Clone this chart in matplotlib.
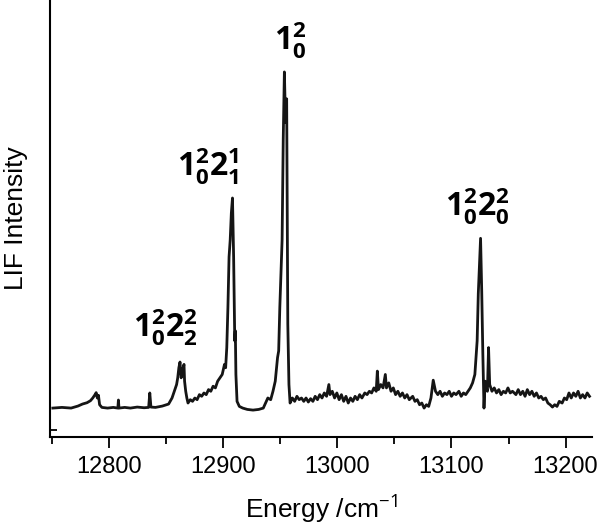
import matplotlib
matplotlib.use("Agg")
import matplotlib.pyplot as plt
from matplotlib.ticker import MultipleLocator

plt.rcParams['font.family'] = ['Liberation Sans', 'DejaVu Sans']
plt.rcParams['mathtext.fontset'] = 'custom'
plt.rcParams['mathtext.bf'] = 'Open Sans:bold'
plt.rcParams['mathtext.rm'] = 'Open Sans'

# spectrum: energy (cm-1) and LIF intensity (main peak = 1)
energy = [12750.5, 12758.5, 12766.5, 12772.5, 12776.5, 12780.5, 12783.5, 12785.5, 12787.5, 12788.5,
          12789.5, 12790.5, 12791.5, 12793.5, 12798.5, 12803.5, 12807.5, 12808, 12808.5, 12813.5,
          12818.5, 12824.5, 12830.5, 12834.5, 12835.5, 12836.5, 12840.5, 12846.5, 12852, 12855,
          12857, 12859, 12860, 12861, 12862, 12863, 12864, 12865.5, 12866, 12867,
          12868, 12869, 12871, 12873, 12875, 12877, 12879, 12881, 12883, 12885,
          12887, 12889, 12891, 12893, 12895, 12897, 12899, 12901, 12902, 12903,
          12904, 12905, 12906, 12907, 12908, 12909, 12910, 12910.5, 12911, 12912,
          12914, 12917, 12921, 12926, 12931, 12935, 12937, 12939, 12941.5, 12943.5,
          12945.5, 12947.5, 12948.5, 12949.5, 12951.5, 12952.5, 12953.5, 12954.5, 12955.5, 12956,
          12956.5, 12957.5, 12958.5, 12960.5, 12962.5, 12964.5, 12966.5, 12968.5, 12970.5, 12972.5,
          12974.5, 12976.5, 12978.5, 12980.5, 12982.5, 12984.5, 12986.5, 12988.5, 12990.5, 12992.5,
          12993.5, 12995.5, 12997.5, 12999.5, 13001.5, 13003.5, 13005.5, 13007.5, 13009.5, 13011.5,
          13013.5, 13015.5, 13017.5, 13019.5, 13021.5, 13024, 13026, 13028, 13030, 13032,
          13034, 13035, 13036, 13038, 13040, 13042, 13043, 13045, 13047, 13049,
          13051, 13053, 13055, 13057, 13059, 13061, 13063, 13066, 13068, 13070,
          13072, 13074, 13076, 13078, 13080, 13082, 13084, 13086, 13088, 13090,
          13092, 13094, 13096, 13098, 13100, 13102, 13104, 13106.5, 13108.5, 13110.5,
          13112.5, 13114.5, 13116.5, 13118.5, 13120.5, 13122.5, 13123.5, 13124.5, 13125.5, 13126.5,
          13127.5, 13128.5, 13129.5, 13130.5, 13131.5, 13132.5, 13133.5, 13135.5, 13137.5, 13139.5,
          13141.5, 13143.5, 13145.5, 13147.5, 13149.5, 13151.5, 13153.5, 13156.5, 13158.5, 13160.5,
          13162.5, 13164.5, 13166.5, 13168.5, 13170.5, 13172.5, 13174.5, 13176.5, 13178.5, 13180.5,
          13182.5, 13184.5, 13186.5, 13188.5, 13190.5, 13192.5, 13194.5, 13197, 13199, 13201,
          13203, 13205, 13207, 13209, 13211, 13213, 13215, 13217, 13219, 13221]
intensity = [0.0, 0.002, 0.0, 0.006, 0.012, 0.016, 0.022, 0.03, 0.04, 0.046,
             0.03, 0.038, 0.01, 0.002, 0.0, 0.002, 0.0, 0.024, 0.0, 0.002,
             0.0, 0.003, 0.001, 0.002, 0.045, 0.003, 0.002, 0.006, 0.012, 0.03,
             0.05, 0.07, 0.09, 0.12, 0.137, 0.09, 0.11, 0.13, 0.08, 0.05,
             0.03, 0.015, 0.025, 0.02, 0.03, 0.025, 0.04, 0.035, 0.045, 0.04,
             0.055, 0.05, 0.065, 0.06, 0.08, 0.09, 0.1, 0.13, 0.12, 0.18,
             0.3, 0.45, 0.5, 0.58, 0.625, 0.45, 0.2, 0.23, 0.1, 0.02,
             0.005, 0.0, -0.004, -0.006, -0.004, 0.0, 0.015, 0.03, 0.025, 0.05,
             0.08, 0.15, 0.17, 0.3, 0.5, 0.8, 1.0, 0.85, 0.92, 0.6,
             0.25, 0.07, 0.015, 0.03, 0.02, 0.035, 0.025, 0.03, 0.02, 0.03,
             0.018, 0.028, 0.02, 0.035, 0.025, 0.04, 0.03, 0.045, 0.035, 0.07,
             0.04, 0.05, 0.03, 0.045, 0.025, 0.04, 0.02, 0.035, 0.015, 0.03,
             0.02, 0.035, 0.025, 0.04, 0.03, 0.045, 0.04, 0.05, 0.045, 0.06,
             0.05, 0.11, 0.055, 0.07, 0.06, 0.1, 0.06, 0.075, 0.05, 0.06,
             0.04, 0.05, 0.035, 0.045, 0.03, 0.04, 0.025, 0.035, 0.02, 0.025,
             0.01, 0.015, 0.0, 0.01, 0.005, 0.03, 0.083, 0.05, 0.04, 0.05,
             0.035, 0.045, 0.04, 0.05, 0.035, 0.045, 0.04, 0.05, 0.035, 0.045,
             0.04, 0.05, 0.06, 0.075, 0.1, 0.2, 0.34, 0.42, 0.505, 0.35,
             0.16, 0.0, 0.08, 0.06, 0.05, 0.18, 0.07, 0.05, 0.06, 0.045,
             0.055, 0.04, 0.05, 0.045, 0.06, 0.045, 0.05, 0.04, 0.055, 0.04,
             0.05, 0.035, 0.055, 0.04, 0.05, 0.035, 0.045, 0.03, 0.035, 0.025,
             0.03, 0.015, 0.01, 0.003, 0.01, 0.005, 0.02, 0.015, 0.03, 0.025,
             0.045, 0.03, 0.045, 0.035, 0.05, 0.03, 0.04, 0.03, 0.045, 0.035]

# band assignments and where they sit (energy, intensity)
band_labels = [r'$\mathbf{1_0^2 2_2^2}$', r'$\mathbf{1_0^2 2_1^1}$',
               r'$\mathbf{1_0^2}$', r'$\mathbf{1_0^2 2_0^2}$']
band_pos = [(12849, 0.24), (12887, 0.72), (12959, 1.095), (13123, 0.60)]

fig = plt.figure(figsize=(6.0, 5.27), dpi=100)
ax = fig.add_axes([0.0833, 0.1708, 0.903, 0.8292])

ax.plot(energy, intensity, color='#151515', linewidth=2.0)

for txt, (ex, iy) in zip(band_labels, band_pos):
    ax.text(ex, iy, txt, fontsize=23, ha='center', va='center')

ax.set_xlim(12748, 13223)
ax.set_ylim(-0.086, 1.214)

ax.spines['top'].set_visible(False)
ax.spines['right'].set_visible(False)
ax.spines['left'].set_linewidth(1.5)
ax.spines['bottom'].set_linewidth(1.5)

ax.xaxis.set_major_locator(MultipleLocator(100))
ax.xaxis.set_minor_locator(MultipleLocator(50))
ax.tick_params(axis='x', which='major', direction='out', length=8, width=1.3,
               labelsize=17, pad=6)
ax.tick_params(axis='x', which='minor', direction='out', length=5, width=1.3)
ax.set_yticks([-0.065])
ax.set_yticklabels([])
ax.tick_params(axis='y', direction='in', length=5, width=1.3)

ax.set_xlabel('Energy /cm$^{-1}$', fontsize=19, labelpad=10)
ax.set_ylabel('LIF Intensity', fontsize=19, labelpad=12)

fig.savefig('out.png', dpi=100)
